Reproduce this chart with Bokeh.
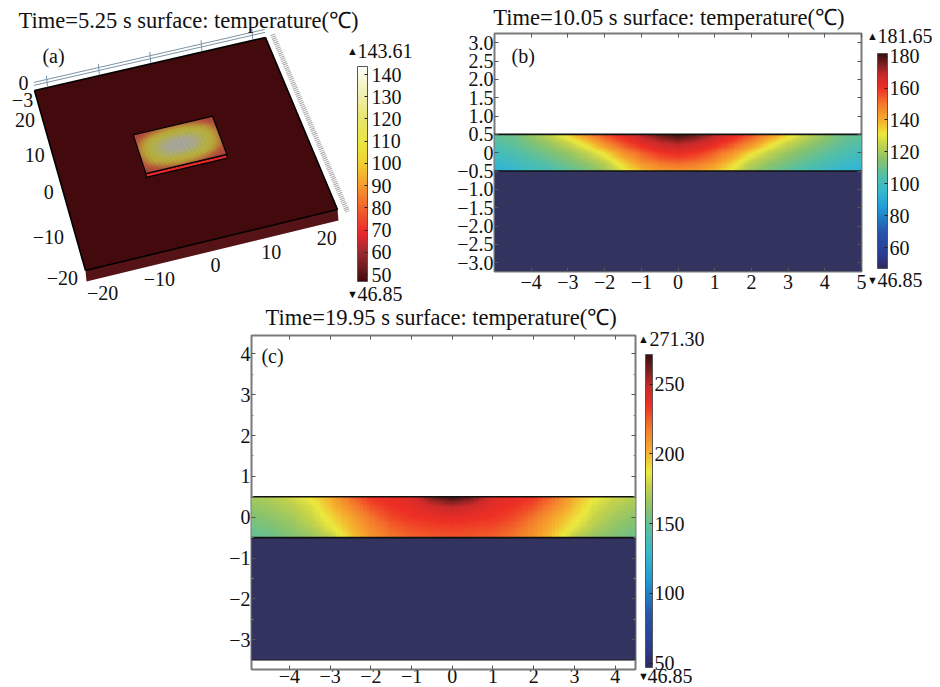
import numpy as np
from bokeh.embed import file_html
from bokeh.resources import INLINE
from bokeh.models import ColorBar, FixedTicker, Label, LinearAxis, LinearColorMapper, Range1d
from bokeh.plotting import figure
from bokeh.core.properties import value

SERIF = "Liberation Serif"

# ---------- data ----------
title_a = "Time=5.25 s surface: temperature(℃)"
title_b = "Time=10.05 s surface: temperature(℃)"
title_c = "Time=19.95 s surface: temperature(℃)"

t_min = 46.85
t_max_a = 143.61
t_max_b = 181.65
t_max_c = 271.30

cbar_ticks_a = [50, 60, 70, 80, 90, 100, 110, 120, 130, 140]
cbar_ticks_b = [60, 80, 100, 120, 140, 160, 180]
cbar_ticks_c = [50, 100, 150, 200, 250]

# heat-camera palette of panel (a): temperature, colour
heat_t = [46.85, 50, 60, 68, 80, 90, 100, 108, 120, 130, 140, 143.61]
heat_c = ["#430a0e", "#5a1519", "#9c2a30", "#e8262b", "#f0632d", "#f59a2e",
          "#f0d033", "#ebe53c", "#e8e56c", "#f0edac", "#fbfae0", "#ffffff"]

# the same scale as it looks on the shaded top of the film
slab_t = [46.85, 68, 80, 90, 100, 108, 120, 130, 143.61]
slab_c = ["#7a2020", "#a8403a", "#b85a3e", "#bb8a3c", "#bcab3c", "#b9b543", "#b3b366", "#aeae8c", "#a9a9a6"]

# rainbow palette of panels (b), (c): fraction of the range, colour
rain_f = [0, .06, .17, .28, .36, .43, .51, .58, .625, .69, .765, .84, .90, .95, 1]
rain_c = ["#2f2a63", "#2b3a8f", "#2556ab", "#1f9bd6", "#35b8d0", "#52bfa8", "#8cc36b",
          "#c6d34a", "#ecea3d", "#f6ae2d", "#f47a2b", "#ee2f25", "#c92a2a", "#7d2020", "#3a0f10"]

substrate_color = "#33335f"

# panel (b): temperature in the film, at x = -5 ... 0 in steps of 0.5
b_y_p50 = [108, 110, 118, 125, 135, 146, 156, 163, 170, 177, 181]
b_y_p25 = [105, 108, 113, 119, 126, 135, 147, 156, 163, 168, 171]
b_y_000 = [101, 104, 108, 113, 118, 125, 134, 146, 154, 160, 162]
b_y_m25 = [97, 100, 104, 108, 113, 118, 125, 136, 147, 152, 154]
b_y_m50 = [93, 95, 99, 103, 107, 112, 118, 129, 138, 143, 145]

# panel (c): same grid
c_y_p50 = [168, 172, 180, 189, 202, 222, 235, 238, 243, 262, 271]
c_y_p25 = [163, 167, 173, 182, 198, 214, 228, 235, 238, 245, 250]
c_y_000 = [158, 162, 168, 178, 192, 205, 220, 230, 235, 237, 239]
c_y_m25 = [153, 157, 163, 172, 186, 200, 214, 224, 229, 231, 232]
c_y_m50 = [148, 152, 158, 164, 175, 195, 210, 219, 224, 226, 227]

# panel (a): top of the film, quadrant cells from the outer edge to the middle
a_y_45 = [68, 72, 76, 79, 82, 84, 85]
a_y_35 = [74, 80, 86, 92, 96, 99, 100]
a_y_25 = [80, 90, 100, 106, 110, 112, 113]
a_y_15 = [85, 96, 107, 115, 122, 127, 130]
a_y_05 = [88, 100, 110, 120, 130, 137, 140]

plate_half = 22.5
plate_z = -3.0
film_x = 7.5
film_y0 = -4.6
film_y1 = 5.3
film_z = 0.5
t_plate_top = 46.85
t_plate_side = 49.5
t_film_front = 68.0
ticks_3d = [-20, -10, 0, 10, 20]

x_ticks_b = [-4, -3, -2, -1, 0, 1, 2, 3, 4, 5]
y_ticks_b = [-3.0, -2.5, -2.0, -1.5, -1.0, -0.5, 0, 0.5, 1.0, 1.5, 2.0, 2.5, 3.0]
x_ticks_c = [-4, -3, -2, -1, 0, 1, 2, 3, 4]
y_ticks_c = [-3, -2, -1, 0, 1, 2, 3, 4]


# ---------- helpers ----------
def hex2rgb(c):
    return [int(c[i:i + 2], 16) for i in (1, 3, 5)]


def build_palette(pos, cols, n=256):
    pos = np.asarray(pos, float)
    pos = (pos - pos[0]) / (pos[-1] - pos[0])
    rgb = np.array([hex2rgb(c) for c in cols], float)
    q = np.linspace(0, 1, n)
    out = np.column_stack([np.interp(q, pos, rgb[:, k]) for k in range(3)])
    return ["#%02x%02x%02x" % tuple(int(round(v)) for v in r) for r in out]


heat_palette = build_palette(heat_t, heat_c)
slab_palette = build_palette(slab_t, slab_c)
rain_palette = build_palette(rain_f, rain_c)


def heat_color(t):
    i = int(round((t - t_min) / (t_max_a - t_min) * 255))
    return heat_palette[min(max(i, 0), 255)]


def slab_color(t):
    i = int(round((t - t_min) / (t_max_a - t_min) * 255))
    return slab_palette[min(max(i, 0), 255)]


def raster(table, sx, sy):
    """Resample a read-off table to the raster of a continuous colour field."""
    t = np.asarray(table, float)
    ny, nx = t.shape
    xq = np.linspace(0, nx - 1, (nx - 1) * sx + 1)
    yq = np.linspace(0, ny - 1, (ny - 1) * sy + 1)
    a = np.array([np.interp(xq, np.arange(nx), r) for r in t])
    return np.array([np.interp(yq, np.arange(ny), c) for c in a.T]).T


# camera of the 3-D view
CAM = dict(a=257.69, b=-47.73, c=85.0, d=-57.47, e=-171.35, f=270.0, g=0.016878, h=0.09617)


def project(x, y, z=0.0):
    u = (x + 22.5) / 45.0
    v = (y + 22.5) / 45.0
    w = CAM["g"] * u + CAM["h"] * v + 1
    sx = (CAM["a"] * u + CAM["b"] * v + CAM["c"]) / w - 0.33 * z
    sy = (CAM["d"] * u + CAM["e"] * v + CAM["f"]) / w - 3.67 * z
    return sx, sy


def poly(corners):
    pts = [project(*c) for c in corners]
    return [p[0] for p in pts], [p[1] for p in pts]


def place(fig, left, top):
    fig.styles = {"position": "absolute", "left": f"{left}px", "top": f"{top}px"}


# ---------- base figure: panel (a) and every text outside a frame ----------
fa = figure(width=940, height=687, x_range=Range1d(0, 940), y_range=Range1d(687, 0),
            x_axis_location=None, y_axis_location=None,
            output_backend="svg", toolbar_location=None, min_border=0,
            outline_line_color=None, background_fill_color="white", border_fill_color="white")
fa.grid.visible = False
place(fa, 0, 0)


def lab(text, px, py, size=20, align="left"):
    fa.add_layout(Label(x=px, y=py, text=text, text_font=SERIF, text_font_size=f"{size}px",
                        text_color="#111111", text_align=align, text_baseline="middle"))


def minmax(top, bottom, tx, vx_top, ty, vx_bot, by):
    lab("▲", tx, ty, 11, "center")
    lab(top, vx_top, ty)
    lab("▼", tx, by, 11, "center")
    lab(bottom, vx_bot, by)


def cbar(mapper, ticks, x, y, w, h, standoff, border="#555555"):
    cb = ColorBar(color_mapper=mapper, ticker=FixedTicker(ticks=ticks), width=w, height=h,
                  location=(x, y), padding=0, margin=0, label_standoff=standoff,
                  major_label_text_font=SERIF, major_label_text_font_size="20px",
                  major_label_text_color="#111111", major_tick_in=3,
                  major_tick_line_color="#222222", minor_tick_line_color=None,
                  bar_line_color=border, bar_line_width=1, background_fill_color=None,
                  border_line_color=None)
    fa.add_layout(cb, "center")


def fmt(t, one_dec):
    if t == 0:
        return "0"
    s = f"{abs(t):.1f}" if one_dec else f"{abs(t):d}"
    return ("−" if t < 0 else "") + s


def style_axes(fig, xt, yt, xminor, yminor, one_dec, show_below=True):
    fig.outline_line_color = "#7a7a7a"
    fig.outline_line_width = 2
    ax = dict(major_tick_in=4, major_tick_out=0, minor_tick_in=2, minor_tick_out=0,
              major_tick_line_color="#555555", minor_tick_line_color="#888888",
              axis_line_color=None)
    xtk = FixedTicker(ticks=xt, minor_ticks=xminor)
    ytk = FixedTicker(ticks=yt, minor_ticks=yminor)
    blank_x = {t: "" for t in xt}
    blank_y = {t: "" for t in yt}
    left = LinearAxis(ticker=ytk, major_label_text_font=SERIF, major_label_text_font_size="20px",
                      major_label_text_color="#111111", major_label_standoff=1,
                      major_label_overrides={t: fmt(t, one_dec) for t in yt}, **ax)
    fig.add_layout(left, "left")
    if show_below:
        below = LinearAxis(ticker=xtk, major_label_text_font=SERIF, major_label_text_font_size="20px",
                           major_label_text_color="#111111", major_label_standoff=3,
                           major_label_overrides={t: fmt(t, False) for t in xt}, **ax)
    else:
        below = LinearAxis(ticker=xtk, major_label_text_font_size="1px",
                           major_label_overrides=blank_x, major_label_standoff=0, **ax)
    fig.add_layout(below, "below")
    fig.add_layout(LinearAxis(ticker=xtk, major_label_text_font_size="1px", major_label_standoff=0,
                              major_label_overrides=blank_x, **ax), "above")
    fig.add_layout(LinearAxis(ticker=ytk, major_label_text_font_size="1px", major_label_standoff=0,
                              major_label_overrides=blank_y, **ax), "right")


def film_image(rows):
    return raster([r + r[-2::-1] for r in rows], 6, 8)


H = plate_half

# axis box behind the plate
xs, ys = [], []
for zl in (1.4, 2.2):
    a, b = project(-H, H, zl), project(H, H, zl)
    xs.append([a[0], b[0]]); ys.append([a[1], b[1]])
for t in ticks_3d:
    a, b = project(t, H, 0.3), project(t, H, 3.2)
    xs.append([a[0], b[0]]); ys.append([a[1], b[1]])
fa.multi_line(xs, ys, line_color="#7c93a5", line_width=1)

a, b = project(H + 1.5, H + 0.4), project(H + 1.5, -H - 1)
fa.line([a[0], b[0]], [a[1], b[1]], line_color="#a8a8a8", line_width=5, line_dash="1 1")

# plate
sx, sy = poly([(-H, -H, 0), (H, -H, 0), (H, -H, plate_z), (-H, -H, plate_z)])
fa.patch(sx, sy, fill_color=heat_color(t_plate_side), line_color=None)
sx, sy = poly([(-H, -H, 0), (H, -H, 0), (H, H, 0), (-H, H, 0)])
fa.patch(sx, sy, fill_color=heat_color(t_plate_top), line_color=None)
for c in ([(-H, H, 0), (H, H, 0)], [(H, H, 0), (H, -H, 0)], [(H, -H, 0), (-H, -H, 0)], [(-H, -H, 0), (-H, H, 0)]):
    sx, sy = poly(c)
    fa.line(sx, sy, line_color="black", line_width=1.6)

# film: front face, then the top surface
sx, sy = poly([(-film_x, film_y0, film_z), (film_x, film_y0, film_z),
               (film_x, film_y0, -film_z), (-film_x, film_y0, -film_z)])
fa.patch(sx, sy, fill_color=heat_color(t_film_front), line_color="black", line_width=1.4)

quadrant = [a_y_45, a_y_35, a_y_25, a_y_15, a_y_05]
rows_a = [r + r[::-1] for r in quadrant + quadrant[::-1]]
field = raster(rows_a, 4, 4)
ny, nx = field.shape
dx = 2 * film_x / nx
dy = (film_y1 - film_y0) / ny
qx, qy, qc = [], [], []
for j in range(ny):
    for i in range(nx):
        x0, x1 = -film_x + i * dx, -film_x + (i + 1) * dx
        y1, y0 = film_y1 - j * dy, film_y1 - (j + 1) * dy
        sx, sy = poly([(x0, y1, film_z), (x1, y1, film_z), (x1, y0, film_z), (x0, y0, film_z)])
        qx.append(sx); qy.append(sy); qc.append(slab_color(field[j, i]))
fa.patches(qx, qy, fill_color=qc, line_color=qc, line_width=0.5)
for c in ([(-film_x, film_y1), (film_x, film_y1)], [(film_x, film_y1), (film_x, film_y0)],
          [(film_x, film_y0), (-film_x, film_y0)], [(-film_x, film_y0), (-film_x, film_y1)]):
    sx, sy = poly([(c[0][0], c[0][1], film_z), (c[1][0], c[1][1], film_z)])
    fa.line(sx, sy, line_color="black", line_width=1.3)

# 3-D tick labels
pts_x = [project(t, -H, plate_z) for t in ticks_3d]
pts_y = [project(-H, t, plate_z) for t in ticks_3d]
off_yx = [-21, -23, -11, -14, -13]
off_yy = [7, 9, 5, 7, 9]
txt = [fmt(t, False) for t in ticks_3d]
fa.text([p[0] + 2 for p in pts_x], [p[1] + 14.5 for p in pts_x], text=txt, text_font=value(SERIF),
        text_font_size="20px", text_align="center", text_baseline="middle", text_color="#111111")
fa.text([p[0] + d for p, d in zip(pts_y, off_yx)], [p[1] + d for p, d in zip(pts_y, off_yy)], text=txt,
        text_font=value(SERIF), text_font_size="20px", text_align="center", text_baseline="middle",
        text_color="#111111")
lab("0", 23, 82, 20, "center")
lab("−3", 22, 99, 20, "center")

lab(title_a, 18, 20, 22.5)
lab("(a)", 53, 55, 20, "center")
map_a = LinearColorMapper(palette=heat_palette, low=t_min, high=t_max_a)
cbar(map_a, cbar_ticks_a, 357, 406, 10, 215, 4)
minmax(f"{t_max_a:.2f}", f"{t_min:.2f}", 352, 357, 50, 357, 293)

# ---------- panel (b) ----------
fb = figure(width=510, height=305, x_range=Range1d(-5, 5), y_range=Range1d(-3.24, 3.25),
            x_axis_location=None, y_axis_location=None,
            output_backend="svg", toolbar_location=None, min_border_left=64, min_border_right=79,
            min_border_top=33, min_border_bottom=34,
            background_fill_color=None, border_fill_color=None)
fb.grid.visible = False
place(fb, 430, 0)
map_b = LinearColorMapper(palette=rain_palette, low=t_min, high=t_max_b)
fb.quad(left=[-5], right=[5], bottom=[-3.24], top=[-0.5], fill_color=substrate_color, line_color=None)
fb.image(image=[film_image([b_y_m50, b_y_m25, b_y_000, b_y_p25, b_y_p50])], x=-5, y=-0.5, dw=10, dh=1,
         color_mapper=map_b)
fb.multi_line([[-5, 5], [-5, 5]], [[0.5, 0.5], [-0.5, -0.5]], line_color="#111111", line_width=1.6)
style_axes(fb, x_ticks_b, y_ticks_b, [], [], True)
lab(title_b, 492.7, 17, 22.5)
lab("(b)", 522.7, 55, 20, "center")
cbar(map_b, cbar_ticks_b, 877, 419, 10, 215, 2)
minmax(f"{t_max_b:.2f}", f"{t_min:.2f}", 872, 877, 35, 877, 279)

# ---------- panel (c) ----------
c_left, c_right, c_xlo, c_xhi = 251, 635, -4.93, 4.5
fc = figure(width=530, height=382, x_range=Range1d(c_xlo, c_xhi), y_range=Range1d(-3.73, 4.45),
            x_axis_location=None, y_axis_location=None,
            output_backend="svg", toolbar_location=None, min_border_left=61, min_border_right=85,
            min_border_top=30, min_border_bottom=18,
            background_fill_color=None, border_fill_color=None)
fc.grid.visible = False
place(fc, 190, 305)
map_c = LinearColorMapper(palette=rain_palette, low=t_min, high=t_max_c)
fc.quad(left=[-5], right=[5], bottom=[-3.5], top=[-0.5], fill_color=substrate_color, line_color="#222222")
fc.image(image=[film_image([c_y_m50, c_y_m25, c_y_000, c_y_p25, c_y_p50])], x=-5, y=-0.5, dw=10, dh=1,
         color_mapper=map_c)
fc.multi_line([[-5, 5], [-5, 5]], [[0.5, 0.5], [-0.5, -0.5]], line_color="#111111", line_width=1.6)
style_axes(fc, x_ticks_c, y_ticks_c, [], [-3.5, -2.5, -1.5, -0.5, 0.5, 1.5, 2.5, 3.5], False, show_below=False)
fa.text([c_left + (t - c_xlo) / (c_xhi - c_xlo) * (c_right - c_left) for t in x_ticks_c],
        [675] * len(x_ticks_c), text=[fmt(t, False) for t in x_ticks_c], text_font=value(SERIF),
        text_font_size="20px", text_align="center", text_baseline="middle", text_color="#111111")
lab(title_c, 265, 317, 22.5)
lab("(c)", 272, 355, 20, "center")
cbar(map_c, cbar_ticks_c, 645, 20, 7, 313, 2)
minmax(f"{t_max_c:.2f}", f"{t_min:.2f}", 643, 649, 338, 647, 675)

open("out.html", "w").write(file_html((fa, fb, fc), INLINE))
